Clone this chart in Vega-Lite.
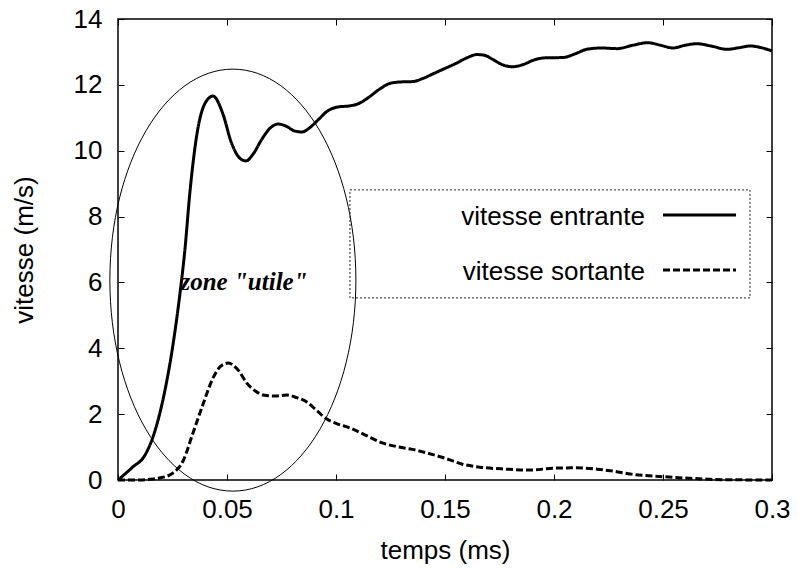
{
  "$schema": "https://vega.github.io/schema/vega-lite/v6.json",
  "width": 654,
  "height": 461,
  "autosize": {"type": "none"},
  "padding": {"left": 118, "top": 19, "right": 26, "bottom": 88},
  "config": {
    "view": {"stroke": "black", "strokeWidth": 1.5},
    "font": "Liberation Sans",
    "axis": {"grid": false, "domain": false, "tickColor": "black", "tickWidth": 1, "labelColor": "black", "titleColor": "black", "labelFont": "Liberation Sans", "titleFont": "Liberation Sans", "labelFontSize": 26, "titleFontSize": 26, "titleFontWeight": "normal"}
  },
  "datasets": {
    "curves": [
      {"t": 0, "v": 0, "serie": "entrante"},
      {"t": 0.0065, "v": 0.38, "serie": "entrante"},
      {"t": 0.0124, "v": 0.76, "serie": "entrante"},
      {"t": 0.016, "v": 1.3, "serie": "entrante"},
      {"t": 0.0206, "v": 2.43, "serie": "entrante"},
      {"t": 0.0252, "v": 4.1, "serie": "entrante"},
      {"t": 0.0284, "v": 5.65, "serie": "entrante"},
      {"t": 0.0307, "v": 7.0, "serie": "entrante"},
      {"t": 0.033, "v": 8.75, "serie": "entrante"},
      {"t": 0.0362, "v": 10.5, "serie": "entrante"},
      {"t": 0.04, "v": 11.45, "serie": "entrante"},
      {"t": 0.0436, "v": 11.66, "serie": "entrante"},
      {"t": 0.048, "v": 11.14, "serie": "entrante"},
      {"t": 0.052, "v": 10.25, "serie": "entrante"},
      {"t": 0.0555, "v": 9.8, "serie": "entrante"},
      {"t": 0.0587, "v": 9.69, "serie": "entrante"},
      {"t": 0.062, "v": 9.9, "serie": "entrante"},
      {"t": 0.066, "v": 10.35, "serie": "entrante"},
      {"t": 0.07, "v": 10.7, "serie": "entrante"},
      {"t": 0.0734, "v": 10.81, "serie": "entrante"},
      {"t": 0.077, "v": 10.75, "serie": "entrante"},
      {"t": 0.081, "v": 10.6, "serie": "entrante"},
      {"t": 0.0844, "v": 10.57, "serie": "entrante"},
      {"t": 0.088, "v": 10.7, "serie": "entrante"},
      {"t": 0.092, "v": 10.95, "serie": "entrante"},
      {"t": 0.096, "v": 11.2, "serie": "entrante"},
      {"t": 0.101, "v": 11.33, "serie": "entrante"},
      {"t": 0.106, "v": 11.36, "serie": "entrante"},
      {"t": 0.11, "v": 11.42, "serie": "entrante"},
      {"t": 0.115, "v": 11.62, "serie": "entrante"},
      {"t": 0.12, "v": 11.87, "serie": "entrante"},
      {"t": 0.125, "v": 12.05, "serie": "entrante"},
      {"t": 0.13, "v": 12.09, "serie": "entrante"},
      {"t": 0.1353, "v": 12.1, "serie": "entrante"},
      {"t": 0.14, "v": 12.2, "serie": "entrante"},
      {"t": 0.145, "v": 12.35, "serie": "entrante"},
      {"t": 0.15, "v": 12.5, "serie": "entrante"},
      {"t": 0.155, "v": 12.65, "serie": "entrante"},
      {"t": 0.16, "v": 12.82, "serie": "entrante"},
      {"t": 0.1647, "v": 12.92, "serie": "entrante"},
      {"t": 0.168, "v": 12.9, "serie": "entrante"},
      {"t": 0.172, "v": 12.77, "serie": "entrante"},
      {"t": 0.176, "v": 12.62, "serie": "entrante"},
      {"t": 0.181, "v": 12.55, "serie": "entrante"},
      {"t": 0.186, "v": 12.62, "serie": "entrante"},
      {"t": 0.191, "v": 12.76, "serie": "entrante"},
      {"t": 0.196, "v": 12.82, "serie": "entrante"},
      {"t": 0.204, "v": 12.83, "serie": "entrante"},
      {"t": 0.21, "v": 12.95, "serie": "entrante"},
      {"t": 0.215, "v": 13.08, "serie": "entrante"},
      {"t": 0.222, "v": 13.12, "serie": "entrante"},
      {"t": 0.229, "v": 13.1, "serie": "entrante"},
      {"t": 0.236, "v": 13.2, "serie": "entrante"},
      {"t": 0.243, "v": 13.28, "serie": "entrante"},
      {"t": 0.249, "v": 13.2, "serie": "entrante"},
      {"t": 0.2546, "v": 13.12, "serie": "entrante"},
      {"t": 0.26, "v": 13.2, "serie": "entrante"},
      {"t": 0.2656, "v": 13.25, "serie": "entrante"},
      {"t": 0.272, "v": 13.18, "serie": "entrante"},
      {"t": 0.2794, "v": 13.08, "serie": "entrante"},
      {"t": 0.285, "v": 13.13, "serie": "entrante"},
      {"t": 0.29, "v": 13.18, "serie": "entrante"},
      {"t": 0.295, "v": 13.13, "serie": "entrante"},
      {"t": 0.3, "v": 13.03, "serie": "entrante"},
      {"t": 0, "v": 0, "serie": "sortante"},
      {"t": 0.01, "v": 0, "serie": "sortante"},
      {"t": 0.0147, "v": 0.02, "serie": "sortante"},
      {"t": 0.019, "v": 0.06, "serie": "sortante"},
      {"t": 0.0245, "v": 0.18, "serie": "sortante"},
      {"t": 0.03, "v": 0.6, "serie": "sortante"},
      {"t": 0.0344, "v": 1.43, "serie": "sortante"},
      {"t": 0.039, "v": 2.3, "serie": "sortante"},
      {"t": 0.0436, "v": 3.1, "serie": "sortante"},
      {"t": 0.047, "v": 3.45, "serie": "sortante"},
      {"t": 0.0505, "v": 3.55, "serie": "sortante"},
      {"t": 0.055, "v": 3.35, "serie": "sortante"},
      {"t": 0.059, "v": 2.95, "serie": "sortante"},
      {"t": 0.063, "v": 2.7, "serie": "sortante"},
      {"t": 0.0667, "v": 2.58, "serie": "sortante"},
      {"t": 0.072, "v": 2.55, "serie": "sortante"},
      {"t": 0.0774, "v": 2.58, "serie": "sortante"},
      {"t": 0.082, "v": 2.5, "serie": "sortante"},
      {"t": 0.0866, "v": 2.37, "serie": "sortante"},
      {"t": 0.091, "v": 2.12, "serie": "sortante"},
      {"t": 0.0958, "v": 1.85, "serie": "sortante"},
      {"t": 0.1, "v": 1.72, "serie": "sortante"},
      {"t": 0.1064, "v": 1.58, "serie": "sortante"},
      {"t": 0.113, "v": 1.38, "serie": "sortante"},
      {"t": 0.1216, "v": 1.12, "serie": "sortante"},
      {"t": 0.129, "v": 1.0, "serie": "sortante"},
      {"t": 0.135, "v": 0.93, "serie": "sortante"},
      {"t": 0.14, "v": 0.85, "serie": "sortante"},
      {"t": 0.151, "v": 0.64, "serie": "sortante"},
      {"t": 0.158, "v": 0.48, "serie": "sortante"},
      {"t": 0.166, "v": 0.39, "serie": "sortante"},
      {"t": 0.178, "v": 0.33, "serie": "sortante"},
      {"t": 0.189, "v": 0.3, "serie": "sortante"},
      {"t": 0.1997, "v": 0.36, "serie": "sortante"},
      {"t": 0.21, "v": 0.37, "serie": "sortante"},
      {"t": 0.2197, "v": 0.33, "serie": "sortante"},
      {"t": 0.227, "v": 0.27, "serie": "sortante"},
      {"t": 0.235, "v": 0.18, "serie": "sortante"},
      {"t": 0.25, "v": 0.1, "serie": "sortante"},
      {"t": 0.26, "v": 0.06, "serie": "sortante"},
      {"t": 0.2775, "v": 0.01, "serie": "sortante"},
      {"t": 0.3, "v": 0, "serie": "sortante"}
    ],
    "legend": [
      {"label": "vitesse entrante", "serie": "entrante", "tx": 0.2417, "ty": 7.74, "lx1": 0.25, "lx2": 0.2835, "ly": 8.05},
      {"label": "vitesse sortante", "serie": "sortante", "tx": 0.2417, "ty": 6.07, "lx1": 0.25, "lx2": 0.2835, "ly": 6.38}
    ],
    "box": [{"x1": 0.1064, "x2": 0.2899, "y1": 5.53, "y2": 8.81}],
    "zone": [{"cx": 0.0527, "cy": 6.07, "tx": 0.0578, "ty": 5.77, "text": "zone \"utile\""}]
  },
  "resolve": {"axis": {"x": "independent", "y": "independent"}},
  "layer": [
    {
      "data": {"name": "curves"},
      "mark": {"type": "line", "interpolate": "monotone", "strokeWidth": 3, "color": "black"},
      "encoding": {
        "x": {"field": "t", "type": "quantitative", "scale": {"domain": [0, 0.3], "nice": false, "zero": false},
          "axis": {"orient": "bottom", "values": [0, 0.05, 0.1, 0.15, 0.2, 0.25, 0.3], "format": "~g", "tickSize": -6, "labelPadding": 43, "labelBaseline": "alphabetic", "title": "temps (ms)", "titleBaseline": "alphabetic", "titleY": 78, "labelFlush": false}},
        "y": {"field": "v", "type": "quantitative", "scale": {"domain": [0, 14], "nice": false},
          "axis": {"orient": "left", "values": [0, 2, 4, 6, 8, 10, 12, 14], "tickSize": -6, "labelPadding": 22, "title": "vitesse (m/s)", "titleBaseline": "alphabetic", "titleX": -86, "titleAngle": -90, "labelFlush": false}},
        "detail": {"field": "serie"},
        "strokeDash": {"field": "serie", "type": "nominal", "scale": {"domain": ["entrante", "sortante"], "range": [[1, 0], [7, 3]]}, "legend": null}
      }
    },
    {
      "data": {"name": "zone"},
      "mark": {"type": "point", "shape": "M0.583,0C0.583,0.5523,0.322,1,0,1C-0.322,1,-0.583,0.5523,-0.583,0C-0.583,-0.5523,-0.322,-1,0,-1C0.322,-1,0.583,-0.5523,0.583,0Z", "size": 178084, "filled": false, "stroke": "black", "strokeWidth": 1, "opacity": 1},
      "encoding": {
        "x": {"field": "cx", "type": "quantitative", "scale": {"domain": [0, 0.3], "nice": false, "zero": false},
          "axis": {"orient": "top", "values": [0, 0.05, 0.1, 0.15, 0.2, 0.25, 0.3], "labels": false, "tickSize": -6, "title": null}},
        "y": {"field": "cy", "type": "quantitative", "scale": {"domain": [0, 14], "nice": false},
          "axis": {"orient": "right", "values": [0, 2, 4, 6, 8, 10, 12, 14], "labels": false, "tickSize": -6, "title": null}}
      }
    },
    {
      "data": {"name": "zone"},
      "mark": {"type": "text", "font": "Liberation Serif", "fontStyle": "italic", "fontWeight": "bold", "fontSize": 25, "align": "center", "baseline": "alphabetic", "color": "black"},
      "encoding": {
        "x": {"field": "tx", "type": "quantitative", "axis": null},
        "y": {"field": "ty", "type": "quantitative", "axis": null},
        "text": {"field": "text"}
      }
    },
    {
      "data": {"name": "box"},
      "mark": {"type": "rect", "fill": null, "fillOpacity": 0, "stroke": "#222", "strokeWidth": 1, "strokeDash": [2, 2]},
      "encoding": {
        "x": {"field": "x1", "type": "quantitative", "axis": null},
        "x2": {"field": "x2"},
        "y": {"field": "y1", "type": "quantitative", "axis": null},
        "y2": {"field": "y2"}
      }
    },
    {
      "data": {"name": "legend"},
      "mark": {"type": "text", "fontSize": 26, "align": "right", "baseline": "alphabetic", "color": "black", "font": "Liberation Sans"},
      "encoding": {
        "x": {"field": "tx", "type": "quantitative", "axis": null},
        "y": {"field": "ty", "type": "quantitative", "axis": null},
        "text": {"field": "label"}
      }
    },
    {
      "data": {"name": "legend"},
      "mark": {"type": "rule", "strokeWidth": 3, "color": "black"},
      "encoding": {
        "x": {"field": "lx1", "type": "quantitative", "axis": null},
        "x2": {"field": "lx2"},
        "y": {"field": "ly", "type": "quantitative", "axis": null},
        "strokeDash": {"field": "serie", "type": "nominal", "scale": {"domain": ["entrante", "sortante"], "range": [[1, 0], [7, 3]]}, "legend": null}
      }
    }
  ]
}
